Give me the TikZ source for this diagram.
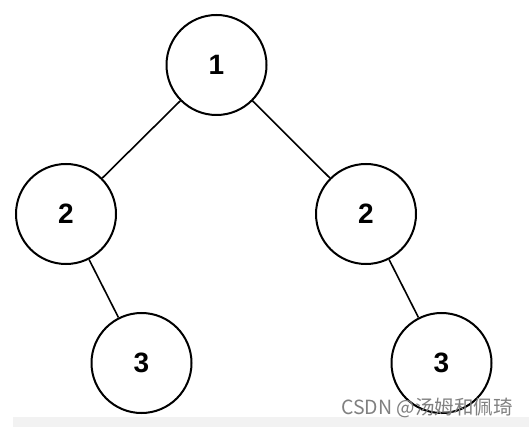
\documentclass[tikz,border=0pt]{standalone}
\usepackage{fontspec}
\setmainfont{Liberation Sans}
\newfontfamily\cjk{Noto Sans CJK SC}
\usetikzlibrary{positioning}

\begin{document}
\begin{tikzpicture}[x=1pt, y=-1pt,
    vertex/.style={circle, draw, line width=2pt, fill=white, minimum size=100pt, inner sep=0pt, font=\fontsize{28}{28}\selectfont\bfseries},
    edge/.style={line width=1.6pt}]
    \useasboundingbox (0,0) rectangle (529,427);
    \fill[white] (0,0) rectangle (529,427);
    \fill[black!5] (13,417) rectangle (529,427);

    % Draw nodes
    \node[vertex] (1) at (216.5,65) {1};
    \node[vertex] (2) at (66,214) {2};
    \node[vertex] (3) at (366,214) {2};
    \node[vertex] (4) at (141.5,363) {3};
    \node[vertex] (5) at (441.5,363) {3};

    % Draw connections
    \draw[edge] (1) -- (2);
    \draw[edge] (1) -- (3);
    \draw[edge] (2) -- (4);
    \draw[edge] (3) -- (5);

    % Watermark
    \node[anchor=east, text=black!50, font=\cjk\fontsize{19.5}{19.5}\selectfont, inner sep=0pt] (mark) at (513,408) {CSDN @汤姆和佩琦};
\end{tikzpicture}
\end{document}
